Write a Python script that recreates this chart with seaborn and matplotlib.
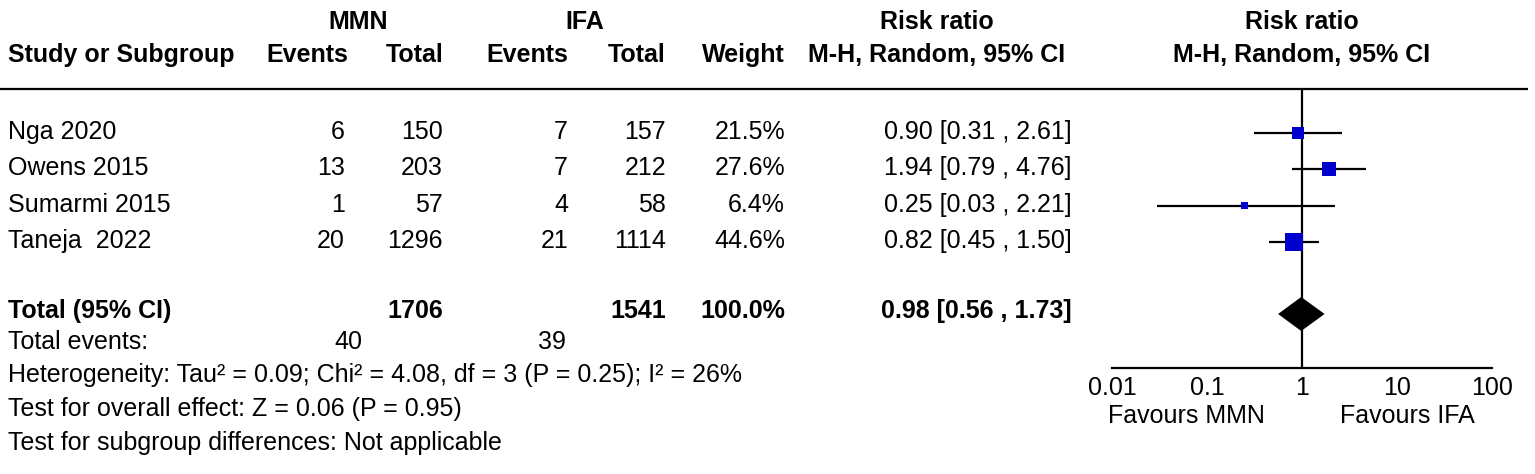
import numpy as np
import pandas as pd
import matplotlib.pyplot as plt
import seaborn as sns

# Study data
studies = ["Nga 2020", "Owens 2015", "Sumarmi 2015", "Taneja  2022"]
mmn_events = [6, 13, 1, 20]
mmn_total = [150, 203, 57, 1296]
ifa_events = [7, 7, 4, 21]
ifa_total = [157, 212, 58, 1114]
weights = [21.5, 27.6, 6.4, 44.6]
rr = [0.90, 1.94, 0.25, 0.82]
ci_low = [0.31, 0.79, 0.03, 0.45]
ci_high = [2.61, 4.76, 2.21, 1.50]

# Pooled result
pooled_rr = 0.98
pooled_low = 0.56
pooled_high = 1.73
pooled_weight = 100.0
mmn_n_total = 1706
ifa_n_total = 1541
mmn_events_total = 40
ifa_events_total = 39

footer = [
    "Heterogeneity: Tau\u00b2 = 0.09; Chi\u00b2 = 4.08, df = 3 (P = 0.25); I\u00b2 = 26%",
    "Test for overall effect: Z = 0.06 (P = 0.95)",
    "Test for subgroup differences: Not applicable",
]
x_ticks = [0.01, 0.1, 1, 10, 100]
x_tick_labels = ["0.01", "0.1", "1", "10", "100"]

sns.set_style("white")
plt.rcParams["font.family"] = ["Liberation Sans", "DejaVu Sans"]
plt.rcParams["text.color"] = "black"
plt.rcParams["xtick.color"] = "black"
plt.rcParams["xtick.labelcolor"] = "black"

W, H = 1535, 474
fig = plt.figure(figsize=(W / 100, H / 100), dpi=100)

# text layer in pixel coordinates
ax_t = fig.add_axes([0, 0, 1, 1])
ax_t.set_xlim(0, W)
ax_t.set_ylim(H, 0)
ax_t.axis("off")

fs = 18
row_y = [133 + 36.3 * i for i in range(len(studies))]
total_y = 314
base = 6  # baseline offset of text below the mark centre

# column right edges
c_ev1, c_tot1, c_ev2, c_tot2, c_w, c_rr = 345, 443, 568, 666, 785, 1072

# headers
hdr = dict(fontsize=fs, fontweight="bold", va="baseline")
ax_t.text(358, 29, "MMN", ha="center", **hdr)
ax_t.text(585, 29, "IFA", ha="center", **hdr)
ax_t.text(8, 62, "Study or Subgroup", ha="left", **hdr)
ax_t.text(c_ev1 + 3, 62, "Events", ha="right", **hdr)
ax_t.text(c_tot1, 62, "Total", ha="right", **hdr)
ax_t.text(c_ev2, 62, "Events", ha="right", **hdr)
ax_t.text(c_tot2, 62, "Total", ha="right", **hdr)
ax_t.text(c_w, 62, "Weight", ha="right", **hdr)
ax_t.text(937, 29, "Risk ratio", ha="center", **hdr)
ax_t.text(937, 62, "M-H, Random, 95% CI", ha="center", **hdr)
ax_t.text(1302, 29, "Risk ratio", ha="center", **hdr)
ax_t.text(1302, 62, "M-H, Random, 95% CI", ha="center", **hdr)
ax_t.plot([0, 1528], [89, 89], color="black", lw=1.6, solid_capstyle="butt")

# study rows
for i, name in enumerate(studies):
    y = row_y[i] + base
    kw = dict(fontsize=fs, va="baseline")
    ax_t.text(8, y, name, ha="left", **kw)
    ax_t.text(c_ev1, y, str(mmn_events[i]), ha="right", **kw)
    ax_t.text(c_tot1, y, str(mmn_total[i]), ha="right", **kw)
    ax_t.text(c_ev2, y, str(ifa_events[i]), ha="right", **kw)
    ax_t.text(c_tot2, y, str(ifa_total[i]), ha="right", **kw)
    ax_t.text(c_w, y, f"{weights[i]:.1f}%", ha="right", **kw)
    ax_t.text(c_rr, y, f"{rr[i]:.2f} [{ci_low[i]:.2f} , {ci_high[i]:.2f}]", ha="right", **kw)

# total row
ty = total_y + 4
tk = dict(fontsize=fs, va="baseline", fontweight="bold")
ax_t.text(8, ty, "Total (95% CI)", ha="left", **tk)
ax_t.text(c_tot1, ty, str(mmn_n_total), ha="right", **tk)
ax_t.text(c_tot2, ty, str(ifa_n_total), ha="right", **tk)
ax_t.text(c_w, ty, f"{pooled_weight:.1f}%", ha="right", **tk)
ax_t.text(c_rr, ty, f"{pooled_rr:.2f} [{pooled_low:.2f} , {pooled_high:.2f}]", ha="right", **tk)

ax_t.text(8, 349, "Total events:", ha="left", va="baseline", fontsize=fs)
ax_t.text(c_ev1 + 17, 349, str(mmn_events_total), ha="right", va="baseline", fontsize=fs)
ax_t.text(c_ev2 - 2, 349, str(ifa_events_total), ha="right", va="baseline", fontsize=fs)
for j, line in enumerate(footer):
    ax_t.text(8, 382 + 34 * j, line, ha="left", va="baseline", fontsize=fs)

# forest panel
x0, x1, y0, y1 = 1112, 1492, 89, 368
ax = fig.add_axes([x0 / W, (H - y1) / H, (x1 - x0) / W, (y1 - y0) / H])
ax.set_xscale("log")
ax.set_xlim(0.01, 100)
ax.set_ylim(y1, y0)
ax.patch.set_alpha(0)

df = pd.DataFrame({"rr": rr, "y": row_y, "lo": ci_low, "hi": ci_high, "w": weights})
ax.hlines(df["y"], df["lo"], df["hi"], color="black", lw=1.6, zorder=2)
sns.scatterplot(data=df, x="rr", y="y", marker="s", color="#0000cc",
                s=df["w"] * 3.6, linewidth=0, legend=False, ax=ax, zorder=3)
ax.axvline(1, color="black", lw=1.6, zorder=1)
ax.fill([pooled_low, pooled_rr, pooled_high, pooled_rr],
        [total_y, total_y - 17, total_y, total_y + 17], color="black", lw=0, zorder=3)

for s in ["top", "left", "right"]:
    ax.spines[s].set_visible(False)
ax.spines["bottom"].set_linewidth(1.6)
ax.spines["bottom"].set_color("black")
ax.set_xticks(x_ticks)
ax.set_xticklabels(x_tick_labels)
ax.minorticks_off()
ax.tick_params(axis="x", direction="in", length=5, width=1.6, labelsize=fs, pad=6)
ax.set_yticks([])
ax.set_xlabel("")
ax.set_ylabel("")

ax_t.text(1108, 423, "Favours MMN", ha="left", va="baseline", fontsize=fs)
ax_t.text(1340, 423, "Favours IFA", ha="left", va="baseline", fontsize=fs)

fig.savefig("out.png", dpi=100)
